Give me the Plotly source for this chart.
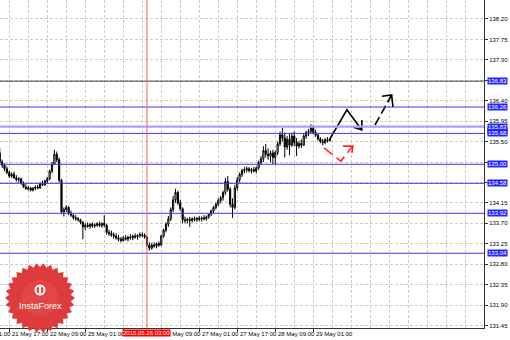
import math
import plotly.graph_objects as go

# ---------------- data ----------------
bar_index = list(range(-4, 136))  # hourly bars, 0 = 21 May 17:00

opens = [135.25, 135.05, 134.98, 134.90, 134.82, 134.74, 134.78, 134.70, 134.66, 134.68,
         134.58, 134.50, 134.46, 134.48, 134.43, 134.47, 134.50, 134.48, 134.57, 134.55,
         134.63, 134.68, 134.85, 135.00, 135.22, 135.10, 134.65, 133.95, 134.00, 134.05,
         133.92, 133.88, 133.82, 133.80, 133.78, 133.72, 133.62, 133.66, 133.63, 133.68,
         133.64, 133.66, 133.69, 133.65, 133.70, 133.66, 133.50, 133.48, 133.44, 133.42,
         133.38, 133.35, 133.32, 133.38, 133.35, 133.40, 133.38, 133.42, 133.40, 133.43,
         133.45, 133.44, 133.40, 133.22, 133.15, 133.22, 133.20, 133.25, 133.22, 133.42,
         133.55, 133.68, 133.80, 134.00, 134.22, 134.38, 134.15, 134.02, 133.78, 133.76,
         133.79, 133.76, 133.80, 133.78, 133.81, 133.79, 133.82, 133.80, 133.84, 133.90,
         133.97, 134.05, 134.12, 134.20, 134.26, 134.38, 134.62, 134.45, 134.12, 134.05,
         134.48, 134.66, 134.78, 134.86, 134.88, 134.90, 134.86, 134.88, 134.85, 134.92,
         135.04, 135.12, 135.30, 135.22, 135.18, 135.25, 135.15, 135.26, 135.45, 135.65,
         135.58, 135.38, 135.55, 135.42, 135.62, 135.48, 135.40, 135.46, 135.42, 135.62,
         135.70, 135.72, 135.82, 135.70, 135.64, 135.56, 135.50, 135.48, 135.54, 135.52]

highs = [135.35, 135.10, 135.02, 134.95, 134.86, 134.82, 134.84, 134.76, 134.72, 134.70,
         134.62, 134.56, 134.52, 134.50, 134.50, 134.53, 134.55, 134.60, 134.64, 134.66,
         134.72, 134.88, 135.05, 135.32, 135.28, 135.15, 134.68, 134.05, 134.10, 134.08,
         133.98, 133.90, 133.88, 133.84, 133.80, 133.75, 133.70, 133.72, 133.70, 133.72,
         133.70, 133.72, 133.74, 133.72, 133.88, 133.68, 133.56, 133.54, 133.50, 133.48,
         133.44, 133.40, 133.42, 133.44, 133.42, 133.46, 133.45, 133.48, 133.46, 133.50,
         133.50, 133.48, 133.42, 133.28, 133.26, 133.28, 133.28, 133.30, 133.45, 133.58,
         133.72, 133.86, 134.05, 134.30, 134.46, 134.42, 134.22, 134.05, 133.85, 133.82,
         133.84, 133.83, 133.85, 133.84, 133.86, 133.85, 133.88, 133.87, 133.92, 134.00,
         134.08, 134.16, 134.25, 134.30, 134.42, 134.70, 134.74, 134.50, 134.25, 134.55,
         134.72, 134.82, 134.90, 134.94, 134.95, 134.94, 134.92, 134.94, 134.95, 135.08,
         135.18, 135.40, 135.45, 135.35, 135.30, 135.32, 135.30, 135.50, 135.72, 135.80,
         135.70, 135.62, 135.68, 135.70, 135.72, 135.58, 135.52, 135.55, 135.68, 135.74,
         135.78, 135.88, 135.86, 135.76, 135.68, 135.60, 135.56, 135.58, 135.60, 135.58]

lows = [135.00, 134.92, 134.85, 134.78, 134.70, 134.70, 134.68, 134.62, 134.60, 134.55,
        134.48, 134.44, 134.42, 134.40, 134.40, 134.43, 134.45, 134.46, 134.52, 134.52,
        134.58, 134.65, 134.80, 134.98, 135.05, 134.60, 133.90, 133.85, 133.95, 133.88,
        133.84, 133.78, 133.76, 133.74, 133.68, 133.35, 133.55, 133.60, 133.58, 133.60,
        133.60, 133.62, 133.62, 133.60, 133.62, 133.45, 133.42, 133.40, 133.36, 133.34,
        133.30, 133.28, 133.30, 133.32, 133.30, 133.34, 133.33, 133.36, 133.34, 133.38,
        133.40, 133.36, 133.18, 133.10, 133.12, 133.16, 133.15, 133.18, 133.20, 133.38,
        133.50, 133.62, 133.75, 133.95, 134.15, 134.10, 133.98, 133.70, 133.70, 133.70,
        133.62, 133.72, 133.74, 133.73, 133.75, 133.74, 133.76, 133.76, 133.80, 133.86,
        133.92, 134.00, 134.08, 134.14, 134.20, 134.32, 134.40, 134.05, 133.82, 134.00,
        134.42, 134.60, 134.72, 134.80, 134.82, 134.82, 134.80, 134.82, 134.80, 134.88,
        134.98, 135.05, 135.15, 135.10, 135.05, 135.00, 135.00, 135.20, 135.40, 135.50,
        135.15, 135.32, 135.20, 135.38, 135.40, 135.18, 135.35, 135.36, 135.40, 135.56,
        135.62, 135.68, 135.66, 135.60, 135.52, 135.46, 135.42, 135.44, 135.48, 135.50]

closes = [135.05, 134.98, 134.90, 134.82, 134.74, 134.78, 134.70, 134.66, 134.68, 134.58,
          134.50, 134.46, 134.48, 134.43, 134.47, 134.50, 134.48, 134.57, 134.55, 134.63,
          134.68, 134.85, 135.00, 135.22, 135.10, 134.65, 133.95, 134.00, 134.05, 133.92,
          133.88, 133.82, 133.80, 133.78, 133.72, 133.62, 133.66, 133.63, 133.68, 133.64,
          133.66, 133.69, 133.65, 133.70, 133.66, 133.50, 133.48, 133.44, 133.42, 133.38,
          133.35, 133.32, 133.38, 133.35, 133.40, 133.38, 133.42, 133.40, 133.43, 133.45,
          133.44, 133.40, 133.22, 133.15, 133.22, 133.20, 133.25, 133.22, 133.42, 133.55,
          133.68, 133.80, 134.00, 134.22, 134.38, 134.15, 134.02, 133.78, 133.76, 133.79,
          133.76, 133.80, 133.78, 133.81, 133.79, 133.82, 133.80, 133.84, 133.90, 133.97,
          134.05, 134.12, 134.20, 134.26, 134.38, 134.62, 134.45, 134.12, 134.05, 134.48,
          134.66, 134.78, 134.86, 134.88, 134.90, 134.86, 134.88, 134.85, 134.92, 135.04,
          135.12, 135.30, 135.22, 135.18, 135.25, 135.15, 135.26, 135.45, 135.65, 135.58,
          135.38, 135.55, 135.42, 135.62, 135.48, 135.40, 135.46, 135.42, 135.62, 135.70,
          135.72, 135.82, 135.70, 135.64, 135.56, 135.50, 135.48, 135.54, 135.52, 135.55]

# time-axis labels actually visible in the chart (25 May 17:00 sits under the cursor label)
time_labels = ["21 May 01:00", "21 May 17:00", "22 May 09:00", "25 May 01:00",
               "26 May 09:00", "27 May 01:00", "27 May 17:00", "28 May 09:00", "29 May 01:00"]
label_bars = [-16, 0, 16, 32, 64, 80, 96, 112, 128]
tick_bars = [-16, 0, 16, 32, 48, 64, 80, 96, 112, 128]

price_ticks = [131.45, 131.90, 132.35, 132.80, 133.25, 133.70, 134.15, 134.60,
               135.05, 135.50, 135.95, 136.40, 136.85, 137.30, 137.75, 138.20]
# tick labels hidden behind level labels in the chart
hidden_ticks = [134.60, 135.05, 136.85]

levels = [136.83, 136.26, 135.83, 135.68, 135.00, 134.58, 133.92, 133.04]
level_colors = ["#454545", "#3a3af0", "#a4a4fa", "#3a3af0", "#3a3af0", "#3a3af0", "#3a3af0", "#3a3af0"]
level_widths = [1, 1, 2.2, 1, 1, 1, 1, 1]
bid_price = 135.73

cursor_bar = 58
cursor_label = "2015.05.26 03:00"

# forecast drawings (bar index, price)
up_path_x = [135.0, 142.2, 148.4]
up_path_y = [135.56, 136.20, 135.755]
up_head_x = [144.7, 148.4, 148.5]
up_head_y = [135.82, 135.755, 135.975]
dash_path_x = [154.0, 161.0]
dash_path_y = [135.865, 136.526]
dash_head_x = [156.9, 161.0, 161.6]
dash_head_y = [136.50, 136.526, 136.26]
red_path_x = [132.5, 139.6, 144.7]
red_path_y = [135.36, 135.07, 135.40]
red_head_x = [140.5, 144.7, 144.3]
red_head_y = [135.40, 135.40, 135.25]

# ---------------- figure ----------------
FONT = "Liberation Sans"
W, H = 510, 340
ML, MR, MT, MB = 0, 26, 0, 12
PW, PH = W - ML - MR, H - MT - MB
x_range = [-3.9, 199.9]
y_range = [131.394, 138.618]

fig = go.Figure()
fig.add_trace(go.Candlestick(
    x=bar_index, open=opens, high=highs, low=lows, close=closes,
    increasing=dict(line=dict(color="black", width=1), fillcolor="white"),
    decreasing=dict(line=dict(color="black", width=1), fillcolor="black"),
    whiskerwidth=0, showlegend=False, hoverinfo="skip"))

for xs, ys, col, dash in [(up_path_x, up_path_y, "black", "solid"),
                          (up_head_x, up_head_y, "black", "solid"),
                          (dash_path_x, dash_path_y, "black", "9px,4px"),
                          (dash_head_x, dash_head_y, "black", "solid"),
                          (red_path_x, red_path_y, "#ff2a2a", "11px,5px"),
                          (red_head_x, red_head_y, "#ff2a2a", "solid")]:
    fig.add_trace(go.Scatter(x=xs, y=ys, mode="lines", line=dict(color=col, width=1.6, dash=dash),
                             showlegend=False, hoverinfo="skip"))

shapes = []
for lv, col, lw in zip(levels, level_colors, level_widths):
    shapes.append(dict(type="line", xref="paper", x0=0, x1=1, yref="y", y0=lv, y1=lv,
                       line=dict(color=col, width=lw), layer="above"))
shapes.append(dict(type="line", xref="x", x0=cursor_bar, x1=cursor_bar, yref="paper", y0=0, y1=1,
                   line=dict(color="#ff5c5c", width=1), layer="above"))

# logo starburst (pixel geometry -> paper)
cx, cy, n_sp, r_out, r_in = 40, 298, 30, 35, 31
pts = []
for k in range(2 * n_sp):
    a = math.pi * k / n_sp
    r = r_out if k % 2 == 0 else r_in
    px, py = cx + r * math.cos(a), cy + r * math.sin(a)
    pts.append((px / PW, 1 - py / PH))
path = "M " + " L ".join(f"{x:.5f},{y:.5f}" for x, y in pts) + " Z"
shapes.append(dict(type="path", xref="paper", yref="paper", path=path,
                   fillcolor="rgba(220,50,50,0.95)", line=dict(width=0), layer="above"))
shapes.append(dict(type="circle", xref="paper", yref="paper",
                   x0=(cx - 18) / PW, x1=(cx + 18) / PW, y0=1 - (cy + 18) / PH, y1=1 - (cy - 18) / PH,
                   fillcolor="rgba(236,90,90,0.35)", line=dict(width=0), layer="above"))
shapes.append(dict(type="circle", xref="paper", yref="paper",
                   x0=(cx - 4.5) / PW, x1=(cx + 4.5) / PW, y0=1 - (290 + 4.5) / PH, y1=1 - (290 - 4.5) / PH,
                   fillcolor="rgba(0,0,0,0)", line=dict(color="white", width=2), layer="above"))
shapes.append(dict(type="line", xref="paper", yref="paper",
                   x0=cx / PW, x1=cx / PW, y0=1 - 293 / PH, y1=1 - 287 / PH,
                   line=dict(color="white", width=2), layer="above"))

def xfrac(v):
    return (v - x_range[0]) / (x_range[1] - x_range[0])

annotations = []
annotations.append(dict(text="InstaForex", xref="paper", yref="paper", x=cx / PW, y=1 - 306 / PH,
                        xanchor="center", yanchor="middle",
                        showarrow=False, font=dict(family=FONT, size=9, color="white")))
for b, t in zip(label_bars, time_labels):
    annotations.append(dict(text=t, xref="paper", yref="paper", x=xfrac(b), y=0, xanchor="left",
                            yanchor="top", xshift=1, yshift=-1, showarrow=False,
                            font=dict(family=FONT, size=6, color="black")))
annotations.append(dict(text=cursor_label, xref="paper", yref="paper", x=xfrac(cursor_bar), y=0,
                        xanchor="center", yanchor="top", xshift=-1, yshift=-1, showarrow=False,
                        bgcolor="#ff0000", borderpad=0, font=dict(family=FONT, size=6, color="white")))
annotations.append(dict(text=f"{bid_price:.2f}", xref="paper", yref="y", x=1, y=bid_price,
                        xanchor="left", xshift=3, showarrow=False, bgcolor="black", borderpad=0,
                        font=dict(family=FONT, size=6, color="white")))
for lv in levels:
    annotations.append(dict(text=f"{lv:.2f}", xref="paper", yref="y", x=1, y=lv, xanchor="left",
                            xshift=3, showarrow=False, bgcolor="#2424ff", borderpad=0,
                            font=dict(family=FONT, size=6, color="white")))

grid_minor = [v for v in range(-8, 200, 8) if v not in tick_bars]

fig.update_layout(
    width=W, height=H, margin=dict(l=ML, r=MR, t=MT, b=MB),
    paper_bgcolor="white", plot_bgcolor="white",
    font=dict(family=FONT, size=6, color="black"),
    shapes=shapes, annotations=annotations, showlegend=False,
    xaxis=dict(range=x_range, rangeslider=dict(visible=False), tickvals=tick_bars,
               showticklabels=False, ticks="outside", ticklen=3, tickcolor="#333333",
               showgrid=True, gridcolor="#cccccc", griddash="3px,2px", gridwidth=1,
               minor=dict(tickvals=grid_minor, showgrid=True, gridcolor="#cccccc",
                          griddash="3px,2px", ticks=""),
               showline=True, linecolor="#333333", linewidth=1, zeroline=False, fixedrange=True),
    yaxis=dict(side="right", range=y_range, tickvals=price_ticks,
               ticktext=["" if v in hidden_ticks else f"{v:.2f}" for v in price_ticks],
               tickfont=dict(family=FONT, size=6, color="black"),
               ticks="outside", ticklen=3, tickcolor="#333333",
               showgrid=True, gridcolor="#cccccc", griddash="3px,2px", gridwidth=1,
               showline=True, linecolor="#333333", linewidth=1, zeroline=False, fixedrange=True),
)

fig.write_html("out.html")
